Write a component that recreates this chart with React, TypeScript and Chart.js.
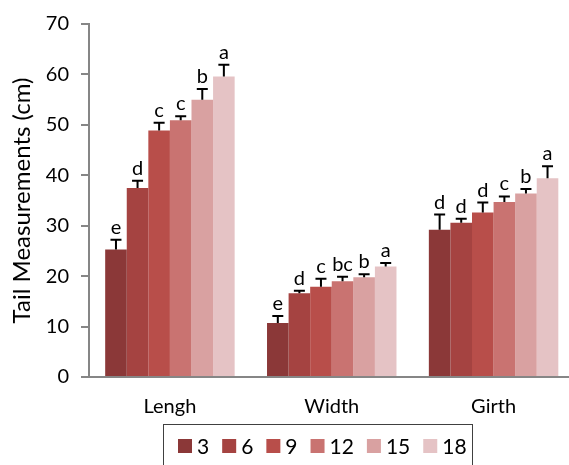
import React, { useEffect, useRef } from "react";
import { Chart, registerables } from "chart.js";

Chart.register(...registerables);

const categories = ["Lengh", "Width", "Girth"];
const seriesLabels = ["3", "6", "9", "12", "15", "18"];
const seriesColors = ["#8b3838", "#a54341", "#b84e4a", "#c97371", "#d9a1a1", "#e5c3c5"];

const s3 = [25.3, 10.7, 29.2];
const s6 = [37.5, 16.6, 30.6];
const s9 = [48.9, 17.9, 32.6];
const s12 = [50.9, 19.0, 34.7];
const s15 = [55.0, 19.8, 36.4];
const s18 = [59.6, 21.9, 39.4];

const e3 = [1.9, 1.4, 3.0];
const e6 = [1.4, 0.5, 0.8];
const e9 = [1.5, 1.6, 2.0];
const e12 = [0.8, 0.9, 1.1];
const e15 = [2.1, 0.6, 0.9];
const e18 = [2.3, 0.7, 2.4];

const l3 = ["e", "e", "d"];
const l6 = ["d", "d", "d"];
const l9 = ["c", "c", "d"];
const l12 = ["c", "bc", "c"];
const l15 = ["b", "b", "b"];
const l18 = ["a", "a", "a"];

const yTicks = [0, 10, 20, 30, 40, 50, 60, 70];

const seriesValues = [s3, s6, s9, s12, s15, s18];
const seriesErrors = [e3, e6, e9, e12, e15, e18];
const seriesLetters = [l3, l6, l9, l12, l15, l18];

const FONT = "Lato, 'Open Sans', sans-serif";
const AXIS = "#868686";

const extrasPlugin = {
  id: "extras",
  afterDatasetsDraw(chart: any) {
    const ctx = chart.ctx;
    const yScale = chart.scales.y;
    ctx.save();
    chart.data.datasets.forEach((ds: any, i: number) => {
      const meta = chart.getDatasetMeta(i);
      meta.data.forEach((el: any, j: number) => {
        const v = ds.data[j];
        const err = ds.errors[j];
        const x = el.x;
        const yBar = yScale.getPixelForValue(v);
        const yTop = yScale.getPixelForValue(v + err);
        ctx.strokeStyle = "#000";
        ctx.lineWidth = 2;
        ctx.beginPath();
        ctx.moveTo(x, yBar);
        ctx.lineTo(x, yTop);
        ctx.moveTo(x - 5.5, yTop);
        ctx.lineTo(x + 5.5, yTop);
        ctx.stroke();
        ctx.fillStyle = "#000";
        ctx.font = `20px ${FONT}`;
        ctx.textAlign = "center";
        ctx.textBaseline = "alphabetic";
        ctx.fillText(ds.letters[j], x, yTop - 6);
      });
    });
    ctx.restore();
  },
  afterDraw(chart: any) {
    const ctx = chart.ctx;
    ctx.save();
    ctx.strokeStyle = "#404040";
    ctx.lineWidth = 1;
    ctx.strokeRect(163.5, 424.5, 309, 60);
    ctx.font = `21px ${FONT}`;
    ctx.textBaseline = "middle";
    ctx.textAlign = "left";
    let x = 178;
    chart.data.datasets.forEach((ds: any) => {
      ctx.fillStyle = ds.backgroundColor;
      ctx.fillRect(x, 439, 14, 14);
      ctx.fillStyle = "#000";
      ctx.fillText(ds.label, x + 19, 447);
      x += 19 + ctx.measureText(ds.label).width + 13;
    });
    ctx.restore();
  },
};

export default function App() {
  const ref = useRef<HTMLCanvasElement>(null);
  useEffect(() => {
    if (!ref.current) return;
    const chart = new Chart(ref.current, {
      type: "bar",
      data: {
        labels: categories,
        datasets: seriesLabels.map((lab, i) => ({
          label: lab,
          data: seriesValues[i],
          errors: seriesErrors[i],
          letters: seriesLetters[i],
          backgroundColor: seriesColors[i],
          borderWidth: 0,
          categoryPercentage: 0.8,
          barPercentage: 1.0,
        })) as any,
      },
      options: {
        animation: false,
        responsive: false,
        devicePixelRatio: 1,
        layout: { padding: { top: 19, right: 1.5, left: 0, bottom: 0 } },
        plugins: { legend: { display: false }, tooltip: { enabled: false } },
        scales: {
          x: {
            grid: { display: false },
            border: { display: true, color: AXIS, width: 2 },
            ticks: { color: "#000", font: { family: FONT, size: 20 }, padding: 10 },
            afterFit: (s: any) => {
              s.height = 88;
            },
          },
          y: {
            min: 0,
            max: 70,
            afterBuildTicks: (s: any) => {
              s.ticks = yTicks.map((v) => ({ value: v }));
            },
            grid: {
              display: true,
              drawOnChartArea: false,
              drawTicks: true,
              tickLength: 8,
              color: AXIS,
              lineWidth: 2,
            },
            border: { display: true, color: AXIS, width: 2 },
            ticks: { color: "#000", font: { family: FONT, size: 20 }, padding: 12 },
            title: {
              display: true,
              text: "Tail Measurements (cm)",
              color: "#000",
              font: { family: FONT, size: 24 },
              padding: { top: 8, bottom: 0 },
            },
            afterFit: (s: any) => {
              s.width = 89;
            },
          },
        },
      },
      plugins: [extrasPlugin],
    });
    return () => chart.destroy();
  }, []);
  return (
    <div
      style={{
        position: "fixed",
        left: 0,
        top: 0,
        width: 569,
        height: 465,
        overflow: "hidden",
        background: "#fff",
      }}
    >
      <canvas ref={ref} width={576} height={465} style={{ width: 576, height: 465, display: "block" }} />
    </div>
  );
}
